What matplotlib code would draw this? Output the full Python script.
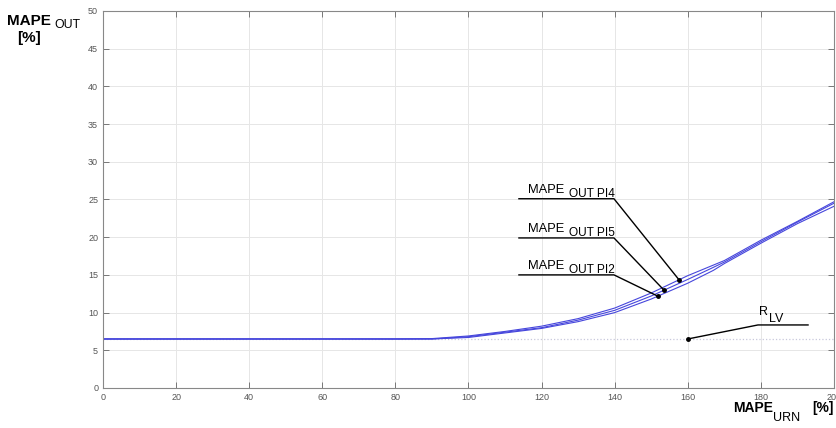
import numpy as np
import matplotlib
matplotlib.use('Agg')
import matplotlib.pyplot as plt

plt.rcParams['font.family'] = ['Liberation Sans', 'DejaVu Sans']

# MAPE of the output vs MAPE of the URN input, three PI variants
mape_urn = [0, 80, 90, 100, 110, 120, 130, 140, 150, 160, 167, 170, 180, 190, 200]
mape_pi4 = [6.5, 6.5, 6.55, 6.9, 7.5, 8.2, 9.2, 10.6, 12.6, 14.9, 16.3, 16.9, 19.6, 22.1, 24.7]
mape_pi5 = [6.5, 6.5, 6.5, 6.8, 7.4, 8.0, 9.0, 10.3, 12.2, 14.4, 16.0, 16.7, 19.4, 22.0, 24.5]
mape_pi2 = [6.5, 6.5, 6.5, 6.7, 7.3, 7.9, 8.8, 10.0, 11.8, 13.9, 15.6, 16.5, 19.2, 21.8, 24.1]
r_lv = 6.5

xticks = [0, 20, 40, 60, 80, 100, 120, 140, 160, 180, 200]
yticks = [0, 5, 10, 15, 20, 25, 30, 35, 40, 45, 50]

fig = plt.figure(figsize=(8.36, 4.28), dpi=100)
ax = fig.add_axes([0.1232, 0.0935, 0.8744, 0.8808])

ax.axhline(r_lv, color='#c8c8dc', lw=0.9, ls=':', zorder=1)
for y in (mape_pi4, mape_pi5, mape_pi2):
    ax.plot(mape_urn, y, color='#4646dc', lw=0.8, zorder=2)

ax.set_xlim(0, 200)
ax.set_ylim(0, 50)
ax.set_xticks(xticks)
ax.set_yticks(yticks)
ax.grid(True, color='#e6e6e6', lw=0.7)
ax.tick_params(direction='in', length=4, width=0.7, colors='#777777',
               labelsize=6.5, labelcolor='#555555', top=True, right=True,
               labeltop=False, labelright=False)
for s in ax.spines.values():
    s.set_color('#888888')
    s.set_linewidth(0.8)

# leader lines to points on each curve
def callout(x_pt, series, y_line, label):
    y_pt = np.interp(x_pt, mape_urn, series)
    ax.plot([113.8, 139.8, x_pt], [y_line, y_line, y_pt], color='black', lw=1.0, zorder=3)
    ax.plot([x_pt], [y_pt], 'o', color='black', ms=2.5, zorder=4)
    ax.text(116.2, y_line + 0.76, 'MAPE', fontsize=9.3, va='baseline', ha='left')
    ax.text(127.4, y_line + 0.25, label, fontsize=8.6, va='baseline', ha='left')

callout(157.6, mape_pi4, 25.1, 'OUT PI4')
callout(153.5, mape_pi5, 19.9, 'OUT PI5')
callout(151.8, mape_pi2, 15.0, 'OUT PI2')

ax.plot([160, 179.2, 192.9], [r_lv, 8.36, 8.36], color='black', lw=1.0, zorder=3)
ax.plot([160], [r_lv], 'o', color='black', ms=2.5, zorder=4)
ax.text(179.4, 9.7, 'R', fontsize=9, va='baseline')
ax.text(182.2, 8.75, 'LV', fontsize=9, va='baseline')

# axis titles
fig.text(0.008, 0.9416, 'MAPE', fontsize=11, fontweight='bold', va='baseline')
fig.text(0.065, 0.9346, 'OUT', fontsize=8.8, va='baseline')
fig.text(0.020, 0.902, '[%]', fontsize=11, fontweight='bold', va='baseline')
fig.text(0.877, 0.0385, 'MAPE', fontsize=10, fontweight='bold', va='baseline')
fig.text(0.925, 0.0175, 'URN', fontsize=9, va='baseline')
fig.text(0.972, 0.0385, '[%]', fontsize=10, fontweight='bold', va='baseline')

fig.savefig('out.png', dpi=100)
